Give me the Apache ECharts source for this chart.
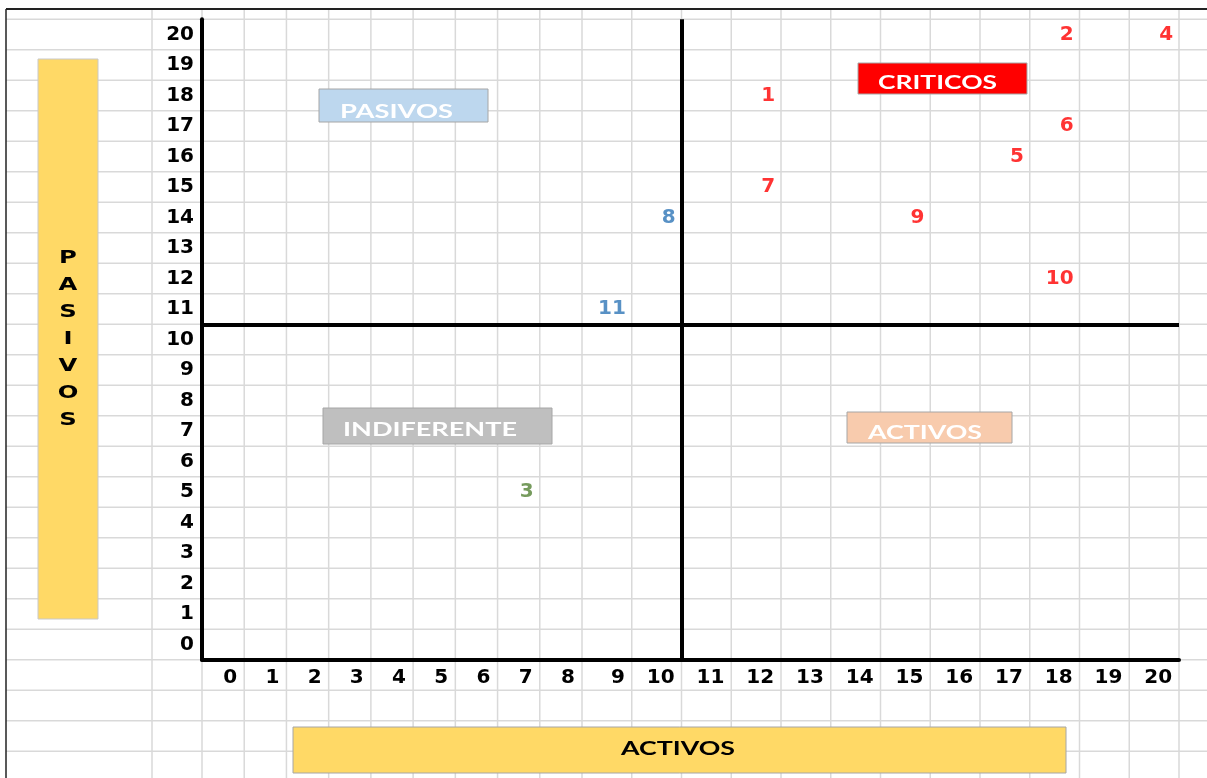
<!DOCTYPE html>
<html><head><meta charset="utf-8">
<script src="https://cdn.jsdelivr.net/npm/echarts@6/dist/echarts.min.js"></script>
<style>html,body{margin:0;padding:0;background:#fff}#c{width:1207px;height:778px}</style>
</head><body><div id="c"></div>
<script>
// ---- data ----
const ids      = ['1','2','3','4','5','6','7','8','9','10','11'];
const activos  = [12, 18, 7, 20, 17, 18, 12, 10, 15, 18, 9];
const pasivos  = [18, 20, 5, 20, 16, 17, 15, 14, 14, 12, 11];
const xTicks   = [0,1,2,3,4,5,6,7,8,9,10,11,12,13,14,15,16,17,18,19,20];
const yTicks   = [0,1,2,3,4,5,6,7,8,9,10,11,12,13,14,15,16,17,18,19,20];
const cutActivos = 10.5;
const cutPasivos = 10.5;
const quadrantNames = ['PASIVOS', 'CRITICOS', 'INDIFERENTE', 'ACTIVOS'];
const axisTitleX = 'ACTIVOS';
const axisTitleY = 'PASIVOS';

// ---- styles ----
const quadrantColor = {CRITICOS:'#FF0000', PASIVOS:'#2E75B6', INDIFERENTE:'#548235', ACTIVOS:'#ED7D31'};
function quadrantOf(x, y) {
  if (x > cutActivos && y > cutPasivos) return 'CRITICOS';
  if (x < cutActivos && y > cutPasivos) return 'PASIVOS';
  if (x < cutActivos) return 'INDIFERENTE';
  return 'ACTIVOS';
}
const NUM_FONT = 'DejaVu Sans';
const gridSplit = 8.5; // sheet columns are narrower on the left part
const points = ids.map((id, i) => ({
  name: id,
  value: [activos[i], pasivos[i]],
  label: {color: quadrantColor[quadrantOf(activos[i], pasivos[i])]}
}));
const leftPts = points.filter(p => p.value[0] < gridSplit);
const rightPts = points.filter(p => p.value[0] > gridSplit);

const chart = echarts.init(document.getElementById('c'), null, {renderer: 'canvas'});
const axisLineStyle = {color: '#000', width: 4};
const numLabel = {fontSize: 20, fontWeight: 'bold', fontFamily: NUM_FONT, color: '#000'};

function xAxisCfg(gi, min, max, w) {
  return {
    gridIndex: gi, type: 'value', min: min, max: max,
    axisLine: {show: true, onZero: false, lineStyle: axisLineStyle},
    axisTick: {show: false}, splitLine: {show: false},
    axisLabel: {
      customValues: xTicks.filter(v => v >= min && v <= max),
      margin: 8,
      formatter: v => '{a|' + v + '}',
      rich: {a: Object.assign({width: w, align: 'right'}, numLabel)}
    }
  };
}
function scatterCfg(gi, data, off, marks) {
  return {
    type: 'scatter', xAxisIndex: gi, yAxisIndex: gi, data: data,
    symbol: 'circle', symbolSize: 1, itemStyle: {color: 'transparent'},
    silent: true, animation: false,
    label: {show: true, position: 'inside', formatter: '{b}', align: 'right', verticalAlign: 'middle',
            offset: [off, 0], fontSize: 20, fontWeight: 'bold', fontFamily: NUM_FONT},
    markLine: {
      silent: true, symbol: ['none', 'none'], animation: false,
      label: {show: false},
      lineStyle: {color: '#000', width: 4, type: 'solid'},
      data: marks
    }
  };
}

chart.setOption({
  animation: false,
  backgroundColor: '#fff',
  grid: [
    {left: 202, top: 19.3, width: 380, height: 640.5},
    {left: 582, top: 19.3, width: 597, height: 640.5}
  ],
  xAxis: [
    xAxisCfg(0, -0.5, gridSplit, 28),
    xAxisCfg(1, gridSplit, 20.5, 36)
  ],
  yAxis: [
    {gridIndex: 0, type: 'value', min: -0.5, max: 20.5,
     axisLine: {show: true, onZero: false, lineStyle: axisLineStyle},
     axisTick: {show: false}, splitLine: {show: false},
     axisLabel: Object.assign({customValues: yTicks, margin: 8}, numLabel)},
    {gridIndex: 1, type: 'value', min: -0.5, max: 20.5, show: false,
     axisLine: {show: false, onZero: false}, splitLine: {show: false}}
  ],
  series: [
    scatterCfg(0, leftPts, 15, [{yAxis: cutPasivos}]),
    scatterCfg(1, rightPts, 19, [{xAxis: cutActivos}, {yAxis: cutPasivos}])
  ]
});

// ---- spreadsheet background and text boxes ----
const yPix = v => chart.convertToPixel({yAxisIndex: 0}, v);
const xPixA = v => chart.convertToPixel({xAxisIndex: 0}, v);
const xPixB = v => chart.convertToPixel({xAxisIndex: 1}, v);
const W = 1207, H = 778, TOP = 9, LEFT = 6;
const g = [];
const sheetLine = (x1, y1, x2, y2, c, w, z) => g.push({type: 'line', silent: true, z: z,
  shape: {x1, y1, x2, y2}, style: {stroke: c, lineWidth: w}});
for (let k = 0; k <= 25; k++) {
  const y = yPix(20.5 - k);
  if (y < H + 2) sheetLine(LEFT, y, W, y, '#d9d9d9', 1.5, -10);
}
const cols = [];
for (let v = -0.5; v <= gridSplit; v += 1) cols.push(xPixA(v));
for (let v = gridSplit + 1; v <= 20.5; v += 1) cols.push(xPixB(v));
cols.push(xPixA(-0.5) - 50);
cols.forEach(x => sheetLine(x, TOP, x, H, '#d9d9d9', 1.5, -10));
sheetLine(LEFT, TOP, W, TOP, '#222', 2, -9);
sheetLine(LEFT, TOP, LEFT, H, '#222', 1.5, -9);

const ctx = document.createElement('canvas').getContext('2d');
const BOX_FONT = 'Lato';
function measure(t, size, fam) { ctx.font = 'bold ' + size + 'px ' + fam; return ctx.measureText(t).width; }
function box(x0, y0, x1, y1, fill, text, color, tx, ty, tw) {
  g.push({type: 'rect', silent: true, z: 10, shape: {x: x0, y: y0, width: x1 - x0, height: y1 - y0},
          style: {fill: fill, stroke: '#a6a6a6', lineWidth: 1}});
  const sx = tw / measure(text, 18, BOX_FONT);
  g.push({type: 'text', silent: true, z: 11, x: tx, y: ty, scaleX: sx,
          style: {text: text, x: 0, y: 0, fill: color, fontSize: 18, fontWeight: 'bold',
                  fontFamily: BOX_FONT, align: 'left', verticalAlign: 'middle'}});
}
box(319, 89, 488, 122, '#BDD7EE', quadrantNames[0], '#fff', 340, 112, 113);
box(858, 63, 1027, 94, '#FF0000', quadrantNames[1], '#fff', 878, 83, 119);
box(323, 408, 552, 444, '#BFBFBF', quadrantNames[2], '#fff', 343, 430, 174);
box(847, 412, 1012, 443, '#F8CBAD', quadrantNames[3], '#fff', 868, 433, 114);
box(293, 727, 1066, 773, '#FFD966', axisTitleX, '#000', 621, 749, 114);
// vertical axis title box
g.push({type: 'rect', silent: true, z: 10, shape: {x: 38, y: 59, width: 60, height: 560},
        style: {fill: '#FFD966', stroke: '#c9c9c9', lineWidth: 1}});
g.push({type: 'text', silent: true, z: 11, x: 68, y: 339, scaleX: 1.35,
        style: {text: axisTitleY.split('').join('\n'), x: 0, y: 0, fill: '#000', fontSize: 18,
                fontWeight: 'bold', fontFamily: NUM_FONT, align: 'center', verticalAlign: 'middle', lineHeight: 27}});

chart.setOption({graphic: {elements: g}});
</script>
</body></html>
